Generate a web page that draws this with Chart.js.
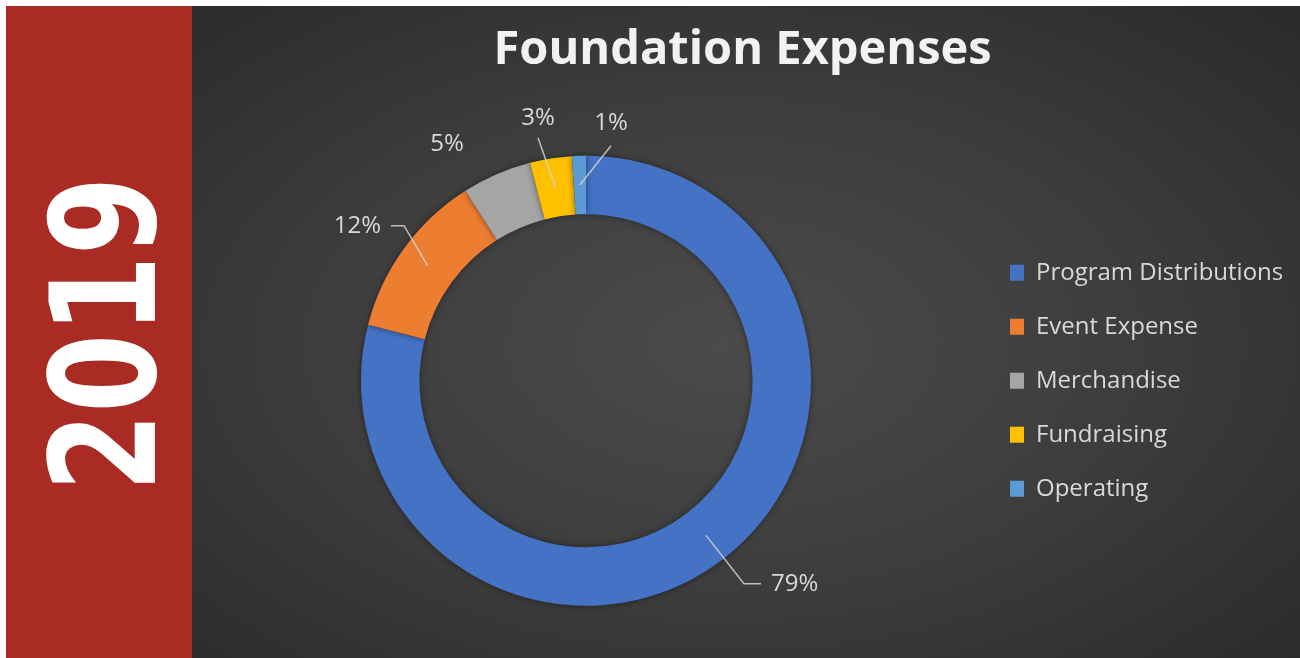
<!DOCTYPE html>
<html>
<head>
<meta charset="utf-8">
<title>Foundation Expenses 2019</title>
<script src="https://cdn.jsdelivr.net/npm/chart.js@4.4.1/dist/chart.umd.min.js"></script>
<style>
  html, body { margin: 0; padding: 0; background: #fff; }
  body { width: 1300px; height: 658px; position: relative; overflow: hidden; }
  .year-band {
    position: absolute; left: 6px; top: 6px; width: 186px; height: 652px;
    background: #a92b23;
  }
  .year-band span {
    position: absolute; left: -112px; top: 255px; width: 420px; height: 146px;
    font-family: 'DejaVu Sans', sans-serif; font-weight: 900; font-size: 146px;
    line-height: 146px; text-align: center; color: #fff;
    transform: rotate(-90deg) scaleX(0.776);
  }
  .panel {
    position: absolute; left: 192px; top: 6px; width: 1108px; height: 652px;
    background: radial-gradient(ellipse at 48% 52%, #4b4b4b 0%, #3d3d3d 50%, #2a2a2a 100%);
  }
  #chartExpenses { position: absolute; left: 0; top: 0; }
</style>
</head>
<body>
<div class="year-band"><span>2019</span></div>
<div class="panel">
  <canvas id="chartExpenses" width="1108" height="652"></canvas>
</div>
<script>
// chart data
const categories = ['Program Distributions', 'Event Expense', 'Merchandise', 'Fundraising', 'Operating'];
const expenseValues = [79, 12, 5, 3, 1];
const sliceColors = ['#4472c4', '#ed7d31', '#a5a5a5', '#ffc000', '#5b9bd5'];

const LABEL_FONT = "24px 'Open Sans', sans-serif";
const LEGEND_SIZE = 24;
const LEGEND_PAD = 30;
const BOX_W = 14;

// where each percentage label sits, relative to the doughnut centre
const labelSpots = [
  { x: 185, y: 203, align: 'left', path: [[158, 203], [175, 203]] },
  { x: -205, y: -155, align: 'right', path: [[-182, -155], [-195, -155]] },
  { x: -139, y: -237, align: 'center', path: null },
  { x: -48, y: -263, align: 'center', path: [[-48, -243]] },
  { x: 25, y: -258, align: 'center', path: [[25, -235]] }
];

// ring shadow
const ringShadow = {
  id: 'ringShadow',
  beforeDatasetsDraw(chart) {
    const ctx = chart.ctx;
    ctx.save();
    ctx.shadowColor = 'rgba(0, 0, 0, 0.45)';
    ctx.shadowBlur = 6;
  },
  afterDatasetsDraw(chart) {
    chart.ctx.restore();
  }
};

// percentage labels with leader lines
const leaderLabels = {
  id: 'leaderLabels',
  afterDatasetsDraw(chart) {
    const ctx = chart.ctx;
    const meta = chart.getDatasetMeta(0);
    const total = expenseValues.reduce((a, b) => a + b, 0);
    ctx.save();
    meta.data.forEach((arc, i) => {
      const spot = labelSpots[i];
      const { x, y, startAngle, endAngle, innerRadius, outerRadius } =
        arc.getProps(['x', 'y', 'startAngle', 'endAngle', 'innerRadius', 'outerRadius'], true);
      const mid = (startAngle + endAngle) / 2;
      const r = (innerRadius + outerRadius) / 2;
      if (spot.path) {
        ctx.beginPath();
        ctx.moveTo(x + Math.cos(mid) * r, y + Math.sin(mid) * r);
        spot.path.forEach(p => ctx.lineTo(x + p[0], y + p[1]));
        ctx.strokeStyle = 'rgba(210, 210, 210, 0.85)';
        ctx.lineWidth = 1.5;
        ctx.stroke();
      }
      ctx.font = LABEL_FONT;
      ctx.fillStyle = '#d9d9d9';
      ctx.textAlign = spot.align;
      ctx.textBaseline = 'middle';
      ctx.fillText(Math.round(expenseValues[i] / total * 100) + '%', x + spot.x, y + spot.y);
    });
    ctx.restore();
  }
};

// work out right padding so the legend lands where it should
const canvas = document.getElementById('chartExpenses');
const mctx = canvas.getContext('2d');
mctx.font = LEGEND_SIZE + "px 'Open Sans', sans-serif";
const widest = Math.max(...categories.map(c => mctx.measureText(c).width));
const legendLeft = 788;
const legendWidth = LEGEND_PAD + BOX_W + LEGEND_SIZE / 2 + widest + 10;
const padRight = canvas.width - legendLeft - legendWidth;

Chart.defaults.font.family = "'Open Sans', sans-serif";
Chart.defaults.color = '#d9d9d9';

new Chart(canvas, {
  type: 'doughnut',
  data: {
    labels: categories,
    datasets: [{
      data: expenseValues,
      backgroundColor: sliceColors,
      borderWidth: 0
    }]
  },
  options: {
    responsive: false,
    animation: false,
    radius: 225,
    cutout: '74%',
    layout: {
      padding: { left: 0, right: padRight, top: 0, bottom: 0 }
    },
    plugins: {
      title: {
        display: true,
        text: 'Foundation Expenses',
        color: '#f2f2f2',
        font: { size: 47, weight: 'bold' },
        padding: { top: 16, bottom: 25 }
      },
      legend: {
        position: 'right',
        fullSize: false,
        labels: {
          color: '#d9d9d9',
          font: { size: LEGEND_SIZE },
          boxWidth: BOX_W,
          boxHeight: 16,
          padding: LEGEND_PAD
        }
      },
      tooltip: { enabled: false }
    }
  },
  plugins: [ringShadow, leaderLabels]
});
</script>
</body>
</html>
